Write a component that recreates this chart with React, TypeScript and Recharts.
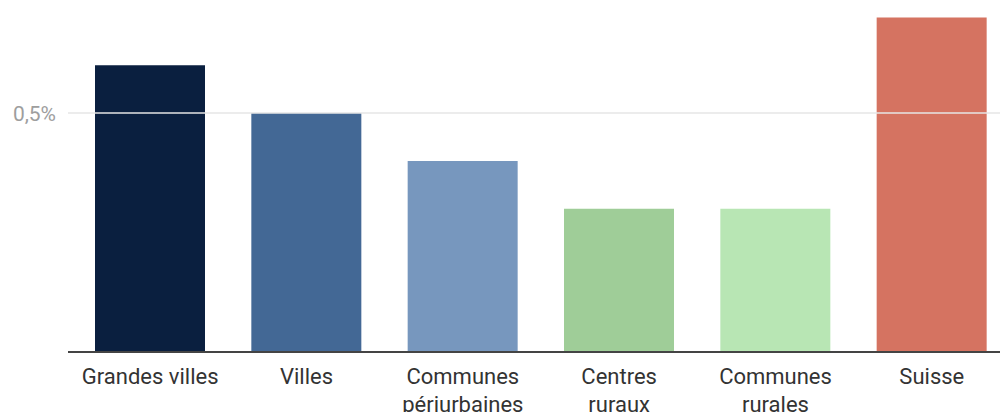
import { BarChart, Bar, XAxis, YAxis, ReferenceLine, Cell } from "recharts"

const categories = [
  "Grandes villes",
  "Villes",
  "Communes périurbaines",
  "Centres ruraux",
  "Communes rurales",
  "Suisse",
]
const tickLines = [
  ["Grandes villes"],
  ["Villes"],
  ["Communes", "périurbaines"],
  ["Centres", "ruraux"],
  ["Communes", "rurales"],
  ["Suisse"],
]
const values = [0.6, 0.5, 0.4, 0.3, 0.3, 0.7]
const colors = ["#0a1f3f", "#436895", "#7797be", "#9fcd98", "#b8e6b4", "#d57361"]
const yTicks = [0.5]

const data = categories.map((name, i) => ({ name, value: values[i] }))

const CategoryTick = ({ x, y, index }: any) => {
  const lines = tickLines[index] || []
  return (
    <text x={x} y={y} textAnchor="middle" fill="#333" fontSize={22} fontFamily="Roboto">
      {lines.map((l, i) => (
        <tspan key={i} x={x} dy={i === 0 ? 32 : 28}>
          {l}
        </tspan>
      ))}
    </text>
  )
}

export default function App() {
  return (
    <div
      style={{
        position: "absolute",
        left: 0,
        top: 0,
        width: 1000,
        height: 412,
        overflow: "hidden",
        background: "#fff",
      }}
    >
      <BarChart
        width={1010}
        height={412}
        data={data}
        margin={{ top: 8, right: 0, left: 0, bottom: 0 }}
      >
        <ReferenceLine y={yTicks[0]} stroke="#e6e6e6" strokeWidth={1.5} />
        <XAxis
          dataKey="name"
          height={60}
          padding={{ left: 4, right: 0 }}
          tickLine={false}
          tickSize={0}
          tickMargin={0}
          axisLine={{ stroke: "#444", strokeWidth: 2 }}
          interval={0}
          tick={<CategoryTick />}
        />
        <YAxis
          width={68}
          domain={[0, 0.72]}
          ticks={yTicks}
          axisLine={false}
          tickLine={false}
          tickSize={0}
          tickMargin={12}
          tickFormatter={(v: number) => `${String(v).replace(".", ",")}%`}
          tick={{ fill: "#9e9e9e", fontSize: 21, fontFamily: "Roboto" }}
        />
        <Bar dataKey="value" barSize={110} isAnimationActive={false}>
          {data.map((d, i) => (
            <Cell key={d.name} fill={colors[i]} />
          ))}
        </Bar>
      </BarChart>
    </div>
  )
}
